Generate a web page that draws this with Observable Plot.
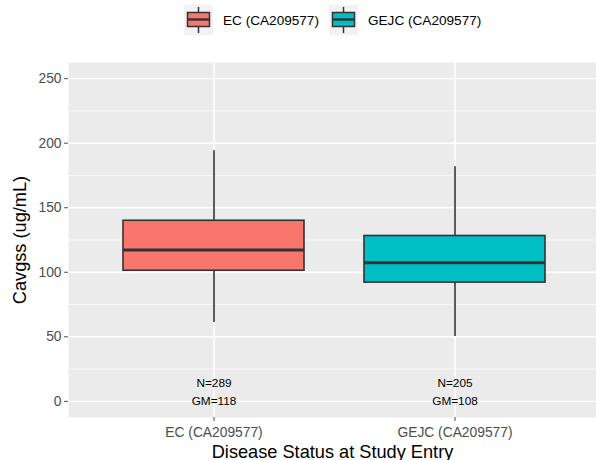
<!DOCTYPE html>
<html><head><meta charset="utf-8">
<script src="https://cdn.jsdelivr.net/npm/d3@7"></script>
<script src="https://cdn.jsdelivr.net/npm/@observablehq/plot@0.6"></script>
<style>
html,body{margin:0;padding:0;background:#fff;}
body{width:596px;height:460px;overflow:hidden;font-family:"Liberation Sans",Arial,sans-serif;}
#legend{height:40px;box-sizing:border-box;padding-left:184px;padding-top:5px;display:flex;align-items:flex-start;}
.item{display:flex;align-items:center;height:30px;margin-right:10px;}
.item span{margin-left:10px;font-size:13.6px;color:#000;}
#chart svg{display:block;}
g[aria-label="x-axis label"], g[aria-label="y-axis label"]{font-size:18.2px;}
g[aria-label="x-axis label"] text, g[aria-label="y-axis label"] text{fill:#000;}
</style></head>
<body>
<div id="legend"></div>
<div id="chart"></div>
<script>
const cats = ["EC (CA209577)", "GEJC (CA209577)"];
const colors = ["#F8766D", "#00BFC4"];
const whiskerLow = [61, 50.2];
const q1 = [101.2, 92];
const median = [117.3, 107.4];
const q3 = [139.9, 128.1];
const whiskerHigh = [194.1, 181.7];
const nLabels = ["N=289", "N=205"];
const gmLabels = ["GM=118", "GM=108"];
const nLabelY = 14;
const gmLabelY = 0;
const yTicks = [0, 50, 100, 150, 200, 250];
const yMinor = [25, 75, 125, 175, 225];

const data = cats.map((c, i) => ({cat: c, lo: whiskerLow[i], q1: q1[i], med: median[i], q3: q3[i], hi: whiskerHigh[i], n: nLabels[i], gm: gmLabels[i]}));

// legend
const legend = document.getElementById("legend");
cats.forEach((c, i) => {
  const item = document.createElement("div");
  item.className = "item";
  item.innerHTML = `<svg width="29" height="30" style="display:block">
    <rect x="0" y="0" width="29" height="30" fill="#F2F2F2"/>
    <line x1="14.5" x2="14.5" y1="2" y2="28" stroke="#333" stroke-width="1.5"/>
    <rect x="3.5" y="7.5" width="22" height="14" fill="${colors[i]}" stroke="#333" stroke-width="1.5"/>
    <line x1="3.5" x2="25.5" y1="14.5" y2="14.5" stroke="#333" stroke-width="2.4"/>
  </svg><span>${c}</span>`;
  legend.appendChild(item);
});

const plot = Plot.plot({
  width: 596, height: 420,
  marginTop: 22, marginBottom: 43, marginLeft: 68, marginRight: 0,
  style: {fontFamily: "Liberation Sans, Arial, sans-serif", background: "transparent", overflow: "hidden"},
  x: {type: "band", domain: cats, range: [68, 600.4], paddingInner: 0.25, paddingOuter: 0.225, align: 0.5},
  y: {domain: [-12.5, 262.5]},
  color: {domain: cats, range: colors},
  marks: [
    Plot.frame({fill: "#EBEBEB", stroke: null}),
    Plot.gridY(yMinor, {stroke: "#fff", strokeOpacity: 1, strokeWidth: 0.7}),
    Plot.gridY(yTicks, {stroke: "#fff", strokeOpacity: 1, strokeWidth: 1.4}),
    Plot.gridX(cats, {stroke: "#fff", strokeOpacity: 1, strokeWidth: 1.4}),
    Plot.ruleX(data, {x: "cat", y1: "q3", y2: "hi", stroke: "#333", strokeWidth: 1.6}),
    Plot.ruleX(data, {x: "cat", y1: "lo", y2: "q1", stroke: "#333", strokeWidth: 1.6}),
    Plot.barY(data, {x: "cat", y1: "q1", y2: "q3", fill: "cat", stroke: "#333", strokeWidth: 1.6, inset: 0}),
    Plot.tickY(data, {x: "cat", y: "med", stroke: "#333", strokeWidth: 3}),
    Plot.text(data, {x: "cat", y: () => nLabelY, text: "n", fontSize: 11.8, fill: "#000"}),
    Plot.text(data, {x: "cat", y: () => gmLabelY, text: "gm", fontSize: 11.8, fill: "#000"}),
    Plot.axisY({ticks: yTicks, tickSize: 4, tickPadding: 3, fontSize: 13.8, color: "#4D4D4D", label: "Cavgss (ug/mL)", labelAnchor: "center", labelOffset: 55, labelArrow: "none"}),
    Plot.axisX({tickSize: 4, tickPadding: 6, fontSize: 13.8, color: "#4D4D4D", label: "Disease Status at Study Entry", labelAnchor: "center", labelOffset: 40, labelArrow: "none"})
  ]
});
document.getElementById("chart").appendChild(plot);
</script>
</body></html>
